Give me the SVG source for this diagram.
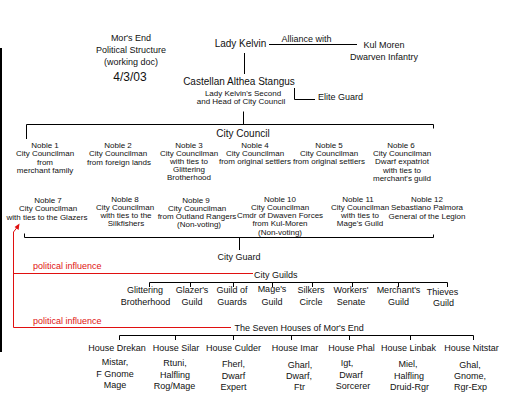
<svg xmlns="http://www.w3.org/2000/svg" width="505" height="400" viewBox="0 0 505 400">
<style>
text{font-family:"Liberation Sans",Arial,sans-serif;fill:#111;text-anchor:middle}
.s8{font-size:8px}
.s9{font-size:9px}
.s10{font-size:10px}
.s12{font-size:12px}
.st{text-anchor:start}
.red{fill:#e01010}
.ln{stroke:#000;stroke-width:1;fill:none}
.rl{stroke:#e01010;stroke-width:1;fill:none}
</style>
<rect width="505" height="400" fill="#fff"/>
<g id="connectors">
<line x1="1" y1="48" x2="1" y2="352" stroke="#000" stroke-width="2"/>
<line class="ln" x1="269" y1="44.5" x2="357" y2="44.5"/>
<text class="s9" x="306.5" y="41.5">Alliance with</text>
<line class="ln" x1="244.5" y1="53" x2="244.5" y2="74"/>
<polyline class="ln" points="294.5,88 294.5,99.5 315,99.5"/>
<line class="ln" x1="243.5" y1="111.5" x2="243.5" y2="124.5"/>
<polyline class="ln" points="26.5,139 26.5,124.5 433.5,124.5 433.5,128.5"/>
<polyline class="ln" points="24.5,233.5 24.5,237.5 433.5,237.5 433.5,234.5"/>
<line class="ln" x1="239.5" y1="237.5" x2="239.5" y2="250"/>
<path class="ln" d="M149.5,287 V282.5 H447.5 V287 M190.5,282.5 V287 M233.5,282.5 V287 M272.5,282.5 V287 M312.5,282.5 V287 M352.5,282.5 V287 M398.5,282.5 V287"/>
<path class="ln" d="M119.5,340 V335.5 H473.5 V340 M175.5,335.5 V340 M233.5,335.5 V340 M291.5,335.5 V340 M349.5,335.5 V340 M410.5,335.5 V340"/>
<path class="rl" d="M231,327.5 H13.5 V232 L17,227.5 M253,273.5 H13.5"/>
<polygon points="19.5,223.5 18.6,230 14.6,227" fill="#e01010"/>
<text class="s9 st red" x="33" y="268.5">political influence</text>
<text class="s9 st red" x="33" y="324">political influence</text>
</g>
<g id="title">
<text class="s9" x="131" y="41">Mor's End</text>
<text class="s9" x="131" y="53">Political Structure</text>
<text class="s9" x="131" y="65">(working doc)</text>
<text class="s12" x="130" y="81">4/3/03</text>
</g>
<g id="lady-kelvin"><text class="s10" x="240.5" y="47">Lady Kelvin</text></g>
<g id="kul-moren">
<text class="s9" x="384" y="48">Kul Moren</text>
<text class="s9" x="384" y="60">Dwarven Infantry</text>
</g>
<g id="castellan">
<text class="s10" x="239" y="85">Castellan Althea Stangus</text>
<text class="s8" x="243" y="95.5">Lady Kelvin's Second</text>
<text class="s8" x="241" y="104">and Head of City Council</text>
</g>
<g id="elite-guard"><text class="s9 st" x="318" y="100">Elite Guard</text></g>
<g id="city-council"><text class="s10" x="243" y="136.5">City Council</text></g>
<g id="noble1" class="s8">
<text x="45" y="147.5">Noble 1</text><text x="45" y="156">City Councilman</text><text x="45" y="164.5">from</text><text x="45" y="173">merchant family</text>
</g>
<g id="noble2" class="s8">
<text x="118" y="147.5">Noble 2</text><text x="118" y="156">City Councilman</text><text x="119" y="164.5">from foreign lands</text>
</g>
<g id="noble3" class="s8">
<text x="189" y="147.5">Noble 3</text><text x="189" y="155.7">City Councilman</text><text x="189" y="164">with ties to</text><text x="189" y="172">Glittering</text><text x="189" y="180">Brotherhood</text>
</g>
<g id="noble4" class="s8">
<text x="255" y="147.5">Noble 4</text><text x="255" y="155.7">City Councilman</text><text x="255" y="164">from original settlers</text>
</g>
<g id="noble5" class="s8">
<text x="329" y="147.5">Noble 5</text><text x="329" y="155.7">City Councilman</text><text x="329" y="164">from original settlers</text>
</g>
<g id="noble6" class="s8">
<text x="401" y="147.5">Noble 6</text><text x="402" y="155.7">City Councilman</text><text x="402" y="164">Dwarf expatriot</text><text x="402" y="172.5">with ties to</text><text x="402" y="181">merchant's guild</text>
</g>
<g id="noble7" class="s8">
<text x="48" y="203">Noble 7</text><text x="48" y="211.2">City Councilman</text><text x="47" y="219.5">with ties to the Glazers</text>
</g>
<g id="noble8" class="s8">
<text x="125" y="202">Noble 8</text><text x="125" y="210">City Councilman</text><text x="126" y="218">with ties to the</text><text x="126" y="226">Silkfishers</text>
</g>
<g id="noble9" class="s8">
<text x="196" y="202.5">Noble 9</text><text x="197" y="210.7">City Councilman</text><text x="197" y="219">from Outland Rangers</text><text x="199" y="227">(Non-voting)</text>
</g>
<g id="noble10" class="s8">
<text x="280" y="201.5">Noble 10</text><text x="280" y="209.7">City Councilman</text><text x="280" y="218">Cmdr of Dwaven Forces</text><text x="280" y="226.2">from Kul-Moren</text><text x="280" y="234.5">(Non-voting)</text>
</g>
<g id="noble11" class="s8">
<text x="358" y="201.5">Noble 11</text><text x="360" y="209.5">City Councilman</text><text x="360" y="217.5">with ties to</text><text x="360" y="225.5">Mage's Guild</text>
</g>
<g id="noble12" class="s8">
<text x="427" y="201.5">Noble 12</text><text x="427" y="210">Sebastiano Palmora</text><text x="427" y="218.5">General of the Legion</text>
</g>
<g id="city-guard"><text class="s9" x="239" y="260">City Guard</text></g>
<g id="city-guilds"><text class="s9 st" x="254" y="278">City Guilds</text></g>
<g id="guild-glittering" class="s9"><text x="145" y="293">Glittering</text><text x="145.5" y="305">Brotherhood</text></g>
<g id="guild-glazers" class="s9"><text x="192" y="293">Glazer's</text><text x="192" y="305">Guild</text></g>
<g id="guild-guards" class="s9"><text x="232" y="293">Guild of</text><text x="232" y="305">Guards</text></g>
<g id="guild-mages" class="s9"><text x="272" y="292">Mage's</text><text x="272" y="304.5">Guild</text></g>
<g id="guild-silkers" class="s9"><text x="311" y="293">Silkers</text><text x="311" y="305">Circle</text></g>
<g id="guild-workers" class="s9"><text x="351" y="293">Workers'</text><text x="351" y="305">Senate</text></g>
<g id="guild-merchants" class="s9"><text x="398.5" y="293">Merchant's</text><text x="398.5" y="305">Guild</text></g>
<g id="guild-thieves" class="s9"><text x="442.5" y="294.5">Thieves</text><text x="443.5" y="306">Guild</text></g>
<g id="seven-houses"><text class="s9 st" x="234.5" y="330.5">The Seven Houses of Mor's End</text></g>
<g id="house-drekan" class="s9"><text x="117" y="351">House Drekan</text><text x="115" y="365">Mistar,</text><text x="115" y="376.5">F Gnome</text><text x="115" y="388">Mage</text></g>
<g id="house-silar" class="s9"><text x="176" y="351">House Silar</text><text x="175" y="366">Rtuni,</text><text x="175" y="377.5">Halfling</text><text x="174.5" y="389">Rog/Mage</text></g>
<g id="house-culder" class="s9"><text x="233.5" y="351">House Culder</text><text x="233.5" y="367">Fherl,</text><text x="233.5" y="378.5">Dwarf</text><text x="233.5" y="390">Expert</text></g>
<g id="house-imar" class="s9"><text x="295" y="351">House Imar</text><text x="300" y="367.5">Gharl,</text><text x="299" y="378.5">Dwarf,</text><text x="299.5" y="390">Ftr</text></g>
<g id="house-phal" class="s9"><text x="351.5" y="351">House Phal</text><text x="347" y="366">Igt,</text><text x="351" y="377.5">Dwarf</text><text x="353" y="389">Sorcerer</text></g>
<g id="house-linbak" class="s9"><text x="408.5" y="351">House Linbak</text><text x="408" y="367">Miel,</text><text x="409" y="378.5">Halfling</text><text x="409.5" y="390">Druid-Rgr</text></g>
<g id="house-nitstar" class="s9"><text x="471.5" y="351">House Nitstar</text><text x="470" y="367.5">Ghal,</text><text x="470" y="379">Gnome,</text><text x="470.5" y="390">Rgr-Exp</text></g>
</svg>
